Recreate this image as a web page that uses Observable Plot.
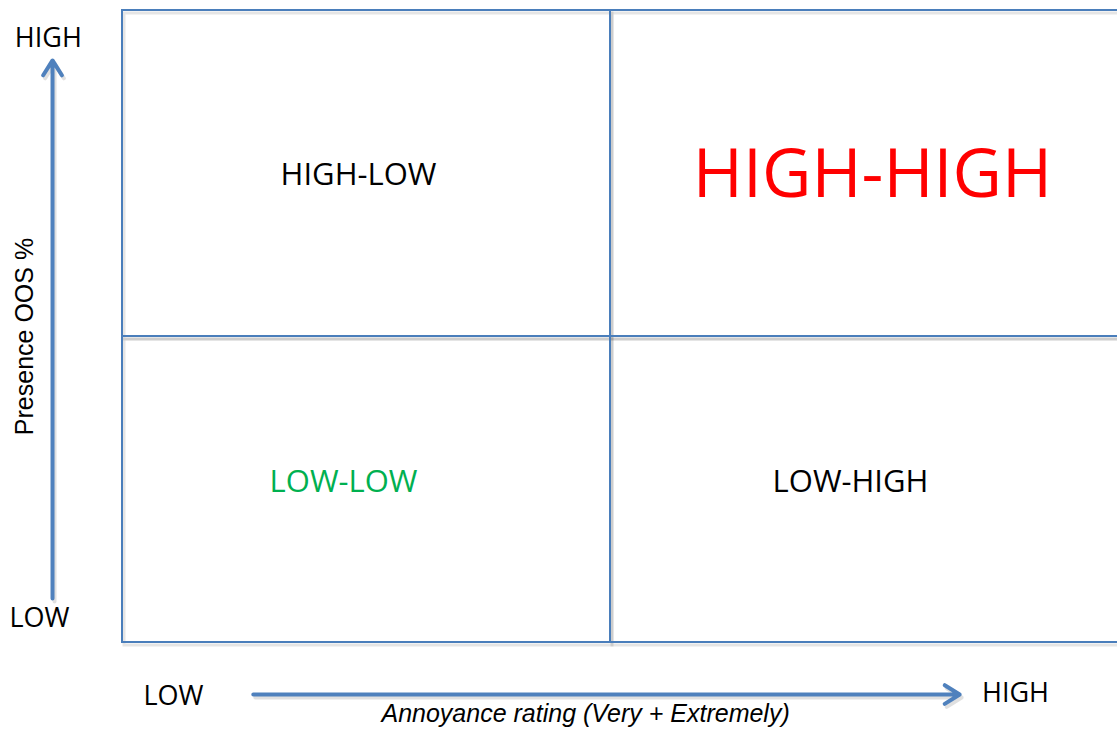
<!DOCTYPE html>
<html>
<head>
<meta charset="utf-8">
<script src="https://cdn.jsdelivr.net/npm/d3@7"></script>
<script src="https://cdn.jsdelivr.net/npm/@observablehq/plot@0.6"></script>
<style>
  html, body { margin: 0; padding: 0; background: #ffffff; }
  #chart svg { display: block; }
</style>
</head>
<body>
<div id="chart"></div>
<script>
// ---- Data ----
const annoyanceLevels = ["LOW", "HIGH"];        // x: Annoyance rating (Very + Extremely)
const presenceLevels = ["LOW", "HIGH"];         // y: Presence OOS %
const xTitle = "Annoyance rating (Very + Extremely)";
const yTitle = "Presence OOS %";
const highlighted = ["HIGH-HIGH", "LOW-LOW"];   // emphasised quadrants

// quadrant table built from the level arrays (label = presence-annoyance)
const quadrants = presenceLevels.flatMap((p, yi) =>
  annoyanceLevels.map((a, xi) => ({
    label: `${p}-${a}`,
    x1: xi, x2: xi + 1, y1: yi, y2: yi + 1,
    cx: xi + 0.5, cy: yi + 0.5
  }))
);

// ---- Styles ----
const lineBlue = "#4a7ebb";
const arrowBlue = "#4f81bd";
const labelStyle = {
  "HIGH-LOW":  {fill: "#000000", fontSize: 31, dx: -8,  dy: 2},
  "HIGH-HIGH": {fill: "#ff0000", fontSize: 68, dx: 6,   dy: 2},
  "LOW-LOW":   {fill: "#00b050", fontSize: 31, dx: -23, dy: -7},
  "LOW-HIGH":  {fill: "#000000", fontSize: 31, dx: -16, dy: -7}
};

const lo = 0, hi = 2;
const arrows = [
  {x1: -0.1434, y1: 0.144, x2: -0.1434, y2: 1.847},   // presence axis
  {x1: 0.268, y1: -0.170, x2: 1.682, y2: -0.170}      // annoyance axis
];
const endLabels = [
  {x: -0.152, y: 1.914, text: presenceLevels[1]},
  {x: -0.170, y: 0.078, text: presenceLevels[0]},
  {x: 0.1045, y: -0.176, text: annoyanceLevels[0]},
  {x: 1.791, y: -0.165, text: annoyanceLevels[1]}
];

const chart = Plot.plot({
  width: 1117,
  height: 729,
  margin: 0,
  x: {type: "linear", domain: [lo, 1, hi], range: [122, 610, 1122], axis: null},
  y: {type: "linear", domain: [lo, 1, hi], range: [642, 336, 10], axis: null},
  style: {fontFamily: "'Open Sans', sans-serif", background: "#ffffff", overflow: "visible"},
  marks: [
    // soft shadows
    Plot.rect(quadrants, {x1: "x1", x2: "x2", y1: "y1", y2: "y2", fill: "none",
      stroke: "#000", strokeOpacity: 0.10, strokeWidth: 3, dx: 2, dy: 3}),
    Plot.arrow(arrows, {x1: "x1", y1: "y1", x2: "x2", y2: "y2", stroke: "#000",
      strokeOpacity: 0.12, strokeWidth: 4, headLength: 6.6, headAngle: 64, dx: 2, dy: 3}),
    // quadrant frame
    Plot.rect(quadrants, {x1: "x1", x2: "x2", y1: "y1", y2: "y2", fill: "none",
      stroke: lineBlue, strokeWidth: 2}),
    // axis arrows
    Plot.arrow(arrows, {x1: "x1", y1: "y1", x2: "x2", y2: "y2", stroke: arrowBlue,
      strokeWidth: 4, headLength: 6.6, headAngle: 64}),
    // quadrant labels
    ...quadrants.map(q => Plot.text([q], {
      x: "cx", y: "cy", text: "label",
      fill: labelStyle[q.label].fill,
      fontSize: labelStyle[q.label].fontSize,
      dx: labelStyle[q.label].dx, dy: labelStyle[q.label].dy
    })),
    // LOW / HIGH end labels
    Plot.text(endLabels, {x: "x", y: "y", text: "text", fontSize: 27, fill: "#000"}),
    // axis titles
    Plot.text([xTitle], {x: 0.949, y: -0.235, text: d => d, fontSize: 25, fontStyle: "italic",
      fontFamily: "'Liberation Sans', Arial, sans-serif", fill: "#000"}),
    Plot.text([yTitle], {x: -0.199, y: 1.0, text: d => d, fontSize: 25, rotate: -90,
      fontFamily: "'Liberation Sans', Arial, sans-serif", fill: "#000"})
  ]
});
document.getElementById("chart").append(chart);
</script>
</body>
</html>
